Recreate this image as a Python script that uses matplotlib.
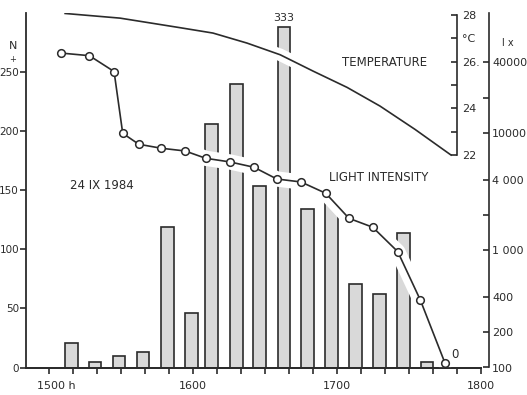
import numpy as np
import matplotlib
matplotlib.use("Agg")
import matplotlib.pyplot as plt
from matplotlib.transforms import ScaledTranslation

# time axis in minutes after 15:00 h
bar_time = [9.4, 19.2, 29.2, 39.2, 49.4, 59.4, 67.8, 78.0, 87.7, 97.9,
            107.7, 117.7, 127.7, 137.6, 147.8, 157.5]
bar_count = [21, 5, 10, 13, 119, 46, 206, 240, 154, 333, 134, 141, 71, 62, 114, 5]

light_time = [5.0, 16.8, 27.1, 30.7, 37.4, 46.7, 56.7, 65.3, 75.4, 85.4,
              94.9, 105.0, 115.3, 125.0, 134.9, 145.3, 154.7, 165.0]
light_lux = [48000, 45600, 33400, 9930, 8010, 7410, 7020, 6080, 5660, 5100,
             4050, 3820, 3060, 1870, 1570, 973, 377, 109]

temp_time = [6.7, 29.6, 54.6, 68.3, 82.5, 96.3, 110.0, 124.2, 137.9, 152.5, 167.5]
temp_c = [28.07, 27.87, 27.46, 27.23, 26.80, 26.30, 25.6, 24.9, 24.1, 23.1, 22.0]

x_ticks = [0, 60, 120, 180]
x_labels = ["1500 h", "1600", "1700", "1800"]
n_ticks = [0, 50, 100, 150, 200, 250]
lux_ticks = [100, 200, 400, 1000, 2000, 4000, 10000, 20000, 40000]
lux_labels = ["100", "200", "400", "1 000", "", "4 000", "10000", "", "40000"]
temp_ticks = [22, 23, 24, 25, 26, 27, 28]
temp_labels = ["22", "", "24", "", "26.", "°C", "28"]

INK = "#2b2b2b"
FS = 8.5
TFS = 8
BAR_CAP = 288  # tallest bar is drawn broken at the top

plt.rcParams["font.family"] = ["DejaVu Sans"]

fig = plt.figure(figsize=(5.27, 3.95), dpi=100)
ax = fig.add_axes([26 / 527, 27.5 / 395, 455 / 527, 354.5 / 395])

# ---- bars (N) ----
heights = [min(v, BAR_CAP) for v in bar_count]
ax.bar(bar_time, heights, width=5.3, color="#d9d9d9", edgecolor=INK,
       linewidth=1.2, zorder=2)
ax.text(bar_time[9], 296, str(bar_count[9]), ha="center", va="center",
        fontsize=TFS, color=INK, clip_on=False)

ax.set_xlim(-9.6, 180)
ax.set_ylim(0, 300)
ax.set_xticks(x_ticks)
ax.set_xticklabels(x_labels)
ax.set_xticks(np.arange(0, 181, 10), minor=True)
ax.set_yticks(n_ticks)
for s in ["top", "right"]:
    ax.spines[s].set_visible(False)
for s in ["left", "bottom"]:
    ax.spines[s].set_color(INK)
    ax.spines[s].set_linewidth(1.3)
ax.tick_params(axis="both", which="both", direction="out", color=INK,
               labelcolor=INK, labelsize=TFS)
ax.tick_params(axis="x", which="both", length=4, width=1.2, pad=6)
ax.tick_params(axis="y", length=4, width=1.2, pad=1, labelsize=7.5)
first = ax.get_xticklabels()[0]
first.set_transform(first.get_transform() + ScaledTranslation(7 / 100, 0, fig.dpi_scale_trans))

ax.text(-0.029, 0.907, "N", transform=ax.transAxes, ha="center", va="center",
        fontsize=TFS, color=INK)
ax.text(-0.029, 0.868, "+", transform=ax.transAxes, ha="center", va="center",
        fontsize=6, color=INK)
ax.text(21.9, 154, "24 IX 1984", ha="center", va="center", fontsize=FS, color=INK)
ax.text(140, 258, "TEMPERATURE", ha="center", va="center", fontsize=FS, color=INK)
ax.text(116.7, 161, "LIGHT INTENSITY", ha="left", va="center", fontsize=FS, color=INK)

# ---- light intensity (log scale) ----
axl = ax.twinx()
axl.set_yscale("log")
axl.set_ylim(100, 105400)
axl.plot(light_time, light_lux, color="white", lw=11, solid_capstyle="round", zorder=1)
axl.plot(light_time, light_lux, color=INK, lw=1.2, marker="o", markersize=5.5,
         markerfacecolor="white", markeredgecolor=INK, markeredgewidth=1.1, zorder=3)
axl.text(167.5, 128, "0", ha="left", va="center", fontsize=FS, color=INK)
axl.yaxis.set_minor_locator(matplotlib.ticker.NullLocator())
axl.set_yticks(lux_ticks)
axl.set_yticklabels(lux_labels)
for s in ["top", "left"]:
    axl.spines[s].set_visible(False)
axl.spines["bottom"].set_color(INK)
axl.spines["bottom"].set_linewidth(1.3)
axl.spines["right"].set_position(("outward", 6))
axl.spines["right"].set_color(INK)
axl.spines["right"].set_linewidth(1.2)
axl.tick_params(axis="y", which="both", direction="in", length=4, width=1.2,
                color=INK, labelcolor=INK, labelsize=TFS, pad=2)
axl.text(1.059, 0.915, "l x", transform=axl.transAxes, ha="center", va="center",
         fontsize=TFS - 1, color=INK)

# ---- temperature ----
axt = ax.twinx()
axt.set_ylim(12.89, 28.09)
axt.plot(temp_time, temp_c, color="white", lw=9, zorder=1)
axt.plot(temp_time, temp_c, color=INK, lw=1.2, zorder=3)
for s in ["top", "left", "bottom"]:
    axt.spines[s].set_visible(False)
axt.spines["right"].set_position(("axes", 0.9466))
axt.spines["right"].set_bounds(22, 28)
axt.spines["right"].set_color(INK)
axt.spines["right"].set_linewidth(1.2)
axt.set_yticks(temp_ticks)
axt.set_yticklabels(temp_labels)
axt.tick_params(axis="y", direction="in", length=4, width=1.2, color=INK,
                labelcolor=INK, labelsize=TFS, pad=4)

fig.savefig("out.png", dpi=100)
